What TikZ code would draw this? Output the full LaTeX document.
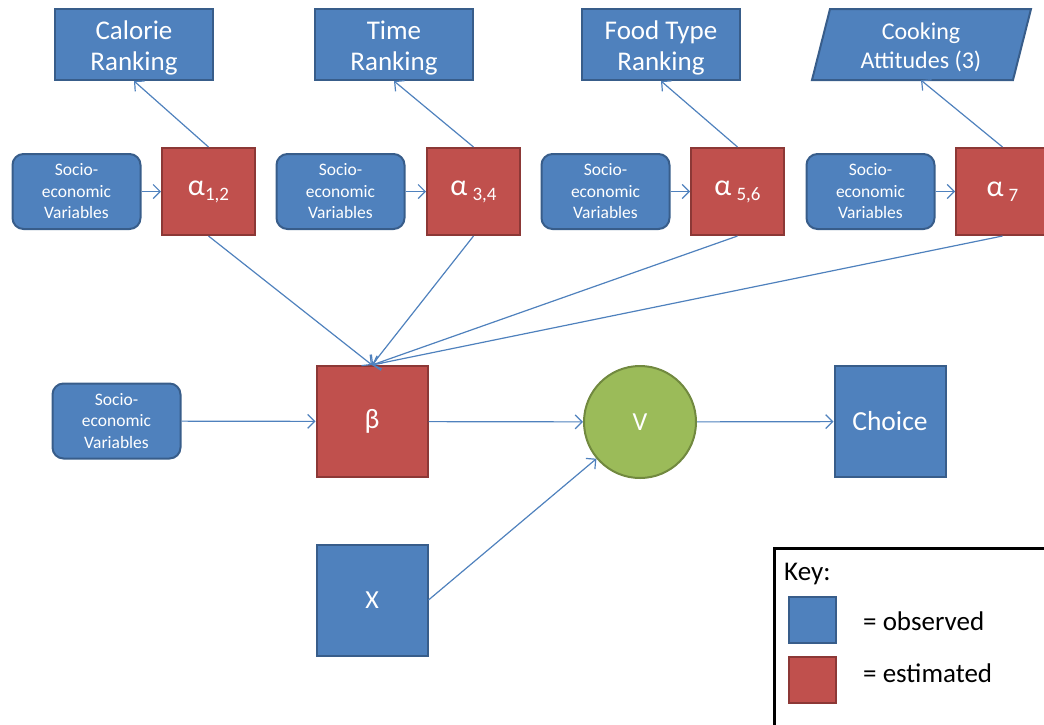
\documentclass[tikz,border=0pt]{standalone}
\usepackage{fontspec}
\setmainfont{Carlito}
\usetikzlibrary{arrows.meta}
\definecolor{obsfill}{HTML}{4F81BD}
\definecolor{obsline}{HTML}{385D8A}
\definecolor{estfill}{HTML}{C0504D}
\definecolor{estline}{HTML}{8C3836}
\definecolor{vfill}{HTML}{9BBB59}
\definecolor{vline}{HTML}{71893F}
\newcommand{\fs}[2]{\fontsize{#1}{#2}\selectfont}
\newcommand{\subs}[1]{{\fs{19}{19}\raisebox{-5pt}{#1}}}
\newcommand{\topstrut}{\rule{0pt}{26pt}}
\tikzset{
  obsbox/.style={draw=obsline, fill=obsfill, line width=2pt, text=white, align=center, inner sep=0pt},
  estbox/.style={draw=estline, fill=estfill, line width=2pt, text=white, align=center, inner sep=0pt, minimum width=93pt, minimum height=87pt, font=\fs{30}{32}},
  rankbox/.style={obsbox, minimum width=158pt, minimum height=71pt, font=\fs{27}{31.5}},
  sociobox/.style={obsbox, rounded corners=11pt, minimum width=128pt, minimum height=75pt, font=\fs{17.5}{21.5}},
  bigbox/.style={obsbox, minimum width=111pt, minimum height=111pt},
  keytext/.style={anchor=west, font=\fs{27}{30}, inner sep=0pt},
  conn/.style={draw=obsfill, line width=1.2pt, -{Straight Barb[length=7pt,width=14pt,line width=1.2pt]}},
}
\begin{document}
\begin{tikzpicture}[x=1pt,y=-1pt]
\useasboundingbox (0,0) rectangle (1044,724);
% rankings
\node[rankbox] (cr) at (134,44.5) {\topstrut Calorie\\Ranking};
\node[rankbox] (tr) at (394,44.5) {\topstrut Time\\Ranking};
\node[rankbox] (fr) at (661,44.5) {\topstrut Food Type\\Ranking};
\fill[obsfill, draw=obsline, line width=2pt] (830,9) -- (1031,9) -- (1013,80) -- (812,80) -- cycle;
\node[inner sep=0pt, minimum width=200pt, minimum height=71pt, text=white, align=center, font=\fs{24}{29.5}] (ca) at (921,44.5) {\rule{0pt}{22pt}Cooking\\Attitudes (3)};
% alphas
\node[estbox] (a1) at (208.5,191.5) {α\subs{1,2}};
\node[estbox] (a2) at (473.5,191.5) {α\,\subs{3,4}};
\node[estbox] (a3) at (737.5,191.5) {α\,\subs{5,6}};
\node[estbox] (a4) at (1002.5,191.5) {α\,\subs{7}};
% socio
\node[sociobox] (s1) at (76.5,191.5) {Socio-\\economic\\Variables};
\node[sociobox] (s2) at (340.5,191.5) {Socio-\\economic\\Variables};
\node[sociobox] (s3) at (605.5,191.5) {Socio-\\economic\\Variables};
\node[sociobox] (s4) at (870.5,191.5) {Socio-\\economic\\Variables};
\node[sociobox] (s5) at (116.5,421) {Socio-\\economic\\Variables};
% middle row
\node[estbox, minimum width=111pt, minimum height=111pt, font=\fs{28}{30}] (b) at (372,421.5) {β};
\node[circle, draw=vline, fill=vfill, line width=2pt, minimum size=112pt, inner sep=0pt, text=white, font=\fs{26}{28}] (v) at (640,422) {V};
\node[bigbox, font=\fs{27.5}{30}] (ch) at (890,421.5) {Choice};
\node[bigbox, font=\fs{26}{28}] (x) at (372,600) {X};
% connectors
\draw[conn] (a1.north) -- (cr.south);
\draw[conn] (a2.north) -- (tr.south);
\draw[conn] (a3.north) -- (fr.south);
\draw[conn] (a4.north) -- (ca.south);
\draw[conn] (s1) -- (a1);
\draw[conn] (s2) -- (a2);
\draw[conn] (s3) -- (a3);
\draw[conn] (s4) -- (a4);
\draw[conn] (a1.south) -- (b.north);
\draw[conn] (a2.south) -- (b.north);
\draw[conn] (a3.south) -- (b.north);
\draw[conn] (a4.south) -- (b.north);
\draw[conn] (s5) -- (b);
\draw[conn] (b) -- (v);
\draw[conn] (v) -- (ch);
\draw[conn] (x.east) -- (v);
% key
\node[draw=black, line width=2.5pt, minimum width=300pt, minimum height=200pt, anchor=north west, inner sep=0pt] (key) at (773,547) {};
\node[keytext] (keyt) at (784,574) {Key:};
\node[obsbox, minimum width=47pt, minimum height=46pt] (ko) at (812.5,620) {};
\node[estbox, minimum width=47pt, minimum height=46pt] (ke) at (812.5,680) {};
\node[keytext] (kot) at (863,621) {= observed};
\node[keytext] (ket) at (863,673) {= estimated};
\end{tikzpicture}
\end{document}
